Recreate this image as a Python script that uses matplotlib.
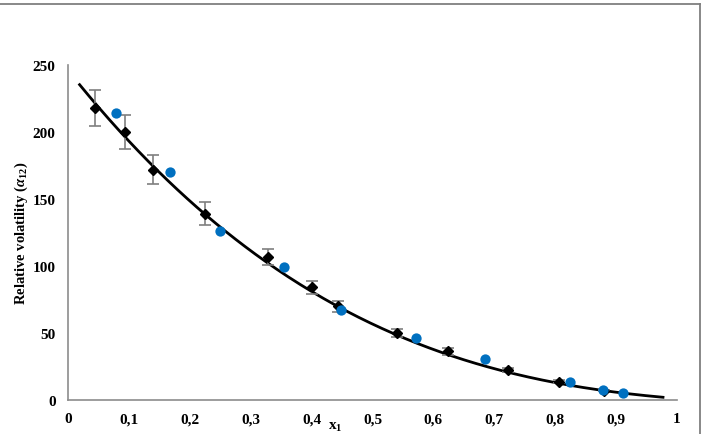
import numpy as np
import matplotlib
matplotlib.use("Agg")
import matplotlib.pyplot as plt
from matplotlib.lines import Line2D

# Experimental data (black diamonds with error bars)
exp_x = [0.044, 0.094, 0.140, 0.225, 0.328, 0.401, 0.444, 0.541, 0.624, 0.722, 0.807, 0.880]
exp_y = [218, 200, 172, 139, 106.5, 84, 70, 50, 36.3, 22.4, 13.7, 7.0]
exp_err = [13.5, 12.5, 11, 8.5, 6, 5, 4, 3, 2.5, 1.5, 1.0, 0.5]

# Predicted data (blue circles)
pred_x = [0.079, 0.167, 0.250, 0.354, 0.448, 0.571, 0.684, 0.825, 0.878, 0.911]
pred_y = [214, 170, 126, 99, 67.2, 46.3, 30.6, 13.2, 7.5, 5.2]

# Trend curve samples
curve_x = [0.019, 0.044, 0.094, 0.140, 0.225, 0.329, 0.444, 0.496, 0.541, 0.624, 0.721, 0.807, 0.878, 0.977]
curve_y = [236, 219, 199, 173, 140, 102.7, 69, 55.4, 48, 34.3, 21.4, 13.2, 7.5, 1.3]

xticks = [0, 0.1, 0.2, 0.3, 0.4, 0.5, 0.6, 0.7, 0.8, 0.9, 1]
xticklabels = ["0", "0,1", "0,2", "0,3", "0,4", "0,5", "0,6", "0,7", "0,8", "0,9", "1"]
yticks = [0, 50, 100, 150, 200, 250]

plt.rcParams['font.family'] = ['Liberation Serif', 'DejaVu Serif']
plt.rcParams['mathtext.fontset'] = 'custom'
plt.rcParams['mathtext.rm'] = 'Liberation Serif:bold'
plt.rcParams['mathtext.it'] = 'Liberation Serif:italic:bold'
plt.rcParams['mathtext.bf'] = 'Liberation Serif:bold'

fig = plt.figure(figsize=(7.02, 4.35), dpi=100)
# outer frame: only top and right edges visible
fig.lines.append(Line2D([0, 0.9975], [0.9885, 0.9885], transform=fig.transFigure,
                        color='#7f7f7f', linewidth=1.3))
fig.lines.append(Line2D([0.9975, 0.9975], [0, 0.9885], transform=fig.transFigure,
                        color='#7f7f7f', linewidth=1.3))

ax = fig.add_axes([0.0969, 0.0782, 0.8675, 0.7700])

# trend line (cubic trendline through read samples)
coef = np.polyfit(curve_x, curve_y, 3)
xs = np.linspace(min(curve_x), max(curve_x), 300)
ax.plot(xs, np.polyval(coef, xs), color='black', linewidth=2.0, zorder=2)

ax.errorbar(exp_x, exp_y, yerr=exp_err, fmt='D', color='black', markersize=5.5,
            ecolor='#7f7f7f', elinewidth=1.2, capsize=4, capthick=1.2, zorder=3)
ax.scatter(pred_x, pred_y, s=55, color='#0070C0', zorder=4, linewidths=0)

ax.set_xlim(0, 1)
ax.set_ylim(0, 250)
ax.set_xticks(xticks)
ax.set_xticklabels(xticklabels)
ax.set_yticks(yticks)
ax.tick_params(length=0, labelsize=11, pad=9)
for lab in ax.get_xticklabels() + ax.get_yticklabels():
    lab.set_fontweight('bold')

for s in ['top', 'right']:
    ax.spines[s].set_visible(False)
for s in ['left', 'bottom']:
    ax.spines[s].set_color('#8c8c8c')
    ax.spines[s].set_linewidth(1.2)

ax.set_xlabel(r'x$_\mathbf{1}$', fontsize=11, fontweight='bold')
ax.xaxis.set_label_coords(0.438, -0.058)
ax.set_ylabel(r'Relative volatility ($\mathit{\alpha}_{\mathbf{12}}$)', fontsize=10.5,
              fontweight='bold', labelpad=2)

fig.savefig('out.png', dpi=100)
